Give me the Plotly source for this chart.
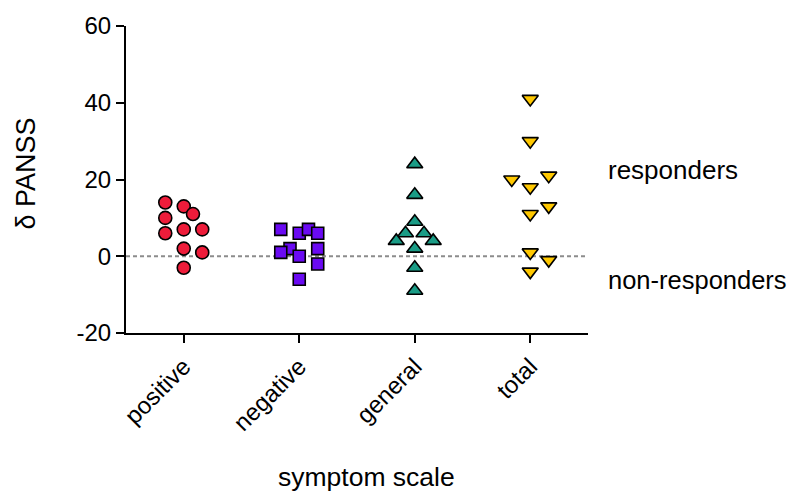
import plotly.graph_objects as go

categories = ["positive", "negative", "general", "total"]

positive_vals = [14, 13, 11, 10, 6, 7, 7, 2, 1, -3]
positive_jitter = [-0.16, 0, 0.08, -0.16, -0.16, 0, 0.16, 0, 0.16, 0]

negative_vals = [7, 6, 7, 6, 2, 1, 0, 2, -2, -6]
negative_jitter = [-0.16, 0, 0.08, 0.16, -0.08, -0.16, 0, 0.16, 0.16, 0]

general_vals = [24, 16, 9, 6, 6, 4, 4, 2, -3, -9]
general_jitter = [0, 0, 0, -0.08, 0.08, -0.16, 0.16, 0, 0, 0]

total_vals = [41, 30, 20, 21, 18, 13, 11, 1, -1, -4]
total_jitter = [0, 0, -0.16, 0.16, 0, 0.16, 0, 0, 0.16, 0]

y_ticks = [-20, 0, 20, 40, 60]
y_tick_labels = ["-20", "0", "20", "40", "60"]

FONT = "Liberation Sans, Arial, sans-serif"

series = [
    (positive_vals, positive_jitter, "circle", "#EE1C3A", 13),
    (negative_vals, negative_jitter, "square", "#6A0AF2", 12),
    (general_vals, general_jitter, "triangle-up", "#1A9C86", 14),
    (total_vals, total_jitter, "triangle-down", "#FFC800", 14),
]

fig = go.Figure()
for i, (vals, jit, sym, col, sz) in enumerate(series):
    fig.add_trace(go.Scatter(
        x=[i + j for j in jit], y=vals, mode="markers",
        marker=dict(symbol=sym, color=col, size=sz,
                    line=dict(color="black", width=1.6)),
        showlegend=False, cliponaxis=False,
    ))

fig.add_shape(type="line", xref="paper", yref="y", x0=0, x1=1, y0=0, y1=0,
              line=dict(color="#8C8C8C", width=1.8, dash="4px,3px"), layer="below")

fig.update_layout(
    width=789, height=493,
    margin=dict(l=126, r=201, t=26, b=160),
    paper_bgcolor="white", plot_bgcolor="white",
    font=dict(family=FONT, color="black", size=24),
    xaxis=dict(range=[-0.5, 3.5], tickvals=[0, 1, 2, 3], ticktext=categories,
               tickangle=-45, showgrid=False, zeroline=False,
               showline=True, linecolor="black", linewidth=2,
               ticks="outside", ticklen=8, tickwidth=2, tickcolor="black",
               tickfont=dict(size=24, family=FONT)),
    yaxis=dict(range=[-20, 60], tickvals=y_ticks, ticktext=y_tick_labels,
               showgrid=False, zeroline=False,
               showline=True, linecolor="black", linewidth=2,
               ticks="outside", ticklen=8, tickwidth=2, tickcolor="black",
               tickfont=dict(size=24, family=FONT)),
)

fig.add_annotation(text="responders", xref="paper", yref="y", x=1.039, y=22.4,
                   xanchor="left", yanchor="middle", showarrow=False,
                   font=dict(size=26, family=FONT))
fig.add_annotation(text="non-responders", xref="paper", yref="y", x=1.039, y=-6.3,
                   xanchor="left", yanchor="middle", showarrow=False,
                   font=dict(size=25.5, family=FONT))
fig.add_annotation(text="δ PANSS", xref="paper", yref="paper",
                   x=(25 - 126) / 462, y=(333 - 173.5) / 307,
                   xanchor="center", yanchor="middle", textangle=-90, showarrow=False,
                   font=dict(size=27, family=FONT))
fig.add_annotation(text="symptom scale", xref="paper", yref="paper",
                   x=(366.5 - 126) / 462, y=(333 - 477) / 307,
                   xanchor="center", yanchor="middle", showarrow=False,
                   font=dict(size=26.5, family=FONT))

fig.write_html("out.html", config={"displayModeBar": False},
               post_script="document.body.style.margin='0';document.body.style.padding='0';")
